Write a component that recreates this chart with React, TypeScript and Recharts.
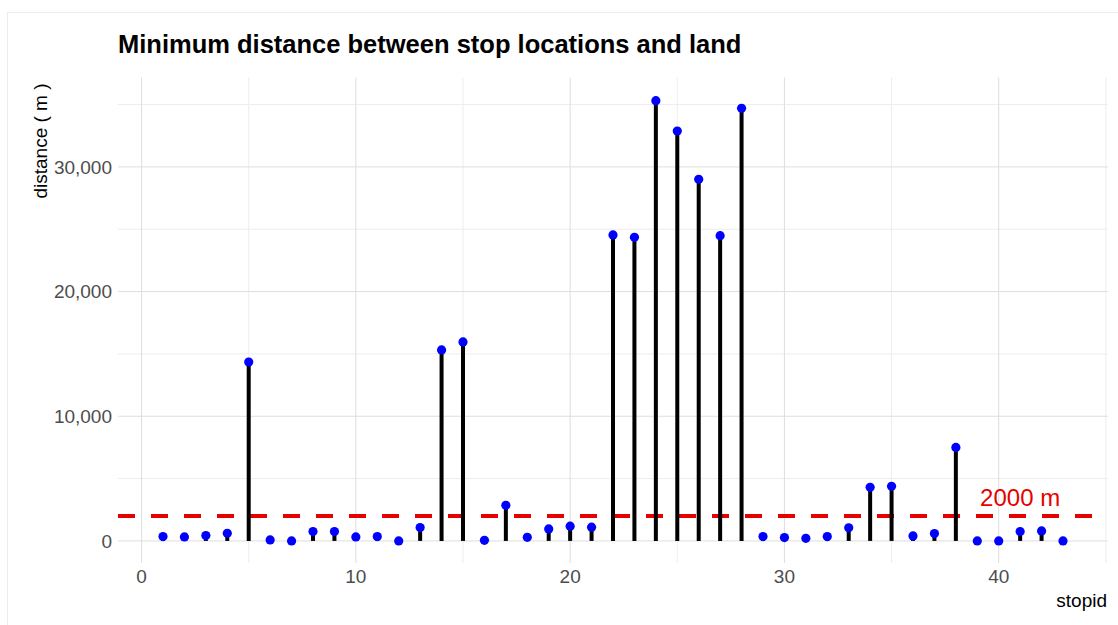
import React from "react";
import {
  ComposedChart,
  Scatter,
  XAxis,
  YAxis,
  CartesianGrid,
  ReferenceLine,
  ReferenceDot,
  ErrorBar,
} from "recharts";

const stopIds = [
  1, 2, 3, 4, 5, 6, 7, 8, 9, 10, 11, 12, 13, 14, 15, 16, 17, 18, 19, 20, 21,
  22, 23, 24, 25, 26, 27, 28, 29, 30, 31, 32, 33, 34, 35, 36, 37, 38, 39, 40,
  41, 42, 43,
];
const distances = [
  350, 320, 430, 615, 14350, 80, 0, 750, 750, 320, 350, 0, 1070, 15320, 15960,
  50, 2860, 290, 960, 1180, 1100, 24540, 24350, 35310, 32880, 29000, 24480,
  34700, 350, 270, 210, 350, 1050, 4300, 4380, 400, 590, 7500, 0, 0, 750, 800,
  0,
];
const xTicks = [0, 10, 20, 30, 40];
const xMinor = [5, 15, 25, 35, 45];
const yTicks = [0, 10000, 20000, 30000];
const yMinor = [5000, 15000, 25000, 35000];
const threshold = 2000;
const thresholdLabel = "2000 m";

const data = stopIds.map((id, i) => ({
  id,
  v: distances[i],
  err: [distances[i], 0],
}));

const FONT = "'Liberation Sans', Arial, sans-serif";

export default function App() {
  return (
    <div
      style={{
        position: "absolute",
        left: 0,
        top: 0,
        width: 1118,
        height: 625,
        background: "#fff",
        fontFamily: FONT,
        overflow: "hidden",
      }}
    >
      <ComposedChart
        width={1118}
        height={625}
        data={data}
        margin={{ top: 77.5, right: 10, bottom: 0, left: 0 }}
      >
        <CartesianGrid
          horizontalValues={yMinor}
          verticalValues={xMinor}
          stroke="#ededed"
          strokeWidth={1}
        />
        <CartesianGrid
          horizontalValues={yTicks}
          verticalValues={xTicks}
          stroke="#dedede"
          strokeWidth={1}
        />
        <XAxis
          type="number"
          dataKey="id"
          domain={[-1.1, 45.1]}
          ticks={xTicks}
          allowDataOverflow
          axisLine={false}
          tickLine={false}
          height={62}
          tickSize={6}
          tickMargin={1}
          tick={{ fill: "#4d4d4d", fontSize: 19 }}
        />
        <YAxis
          type="number"
          dataKey="v"
          domain={[-1770, 37170]}
          ticks={yTicks}
          allowDataOverflow
          axisLine={false}
          tickLine={false}
          width={118}
          tickSize={6}
          tickMargin={0}
          tick={{ fill: "#4d4d4d", fontSize: 19 }}
          tickFormatter={(v: number) => v.toLocaleString("en-US")}
        />
        <ReferenceLine
          y={threshold}
          stroke="#e60000"
          strokeWidth={4}
          strokeDasharray="17 16"
        />
        <Scatter
          data={data}
          dataKey="v"
          isAnimationActive={false}
          shape={() => <g />}
        >
          <ErrorBar
            dataKey="err"
            direction="y"
            width={0}
            stroke="#000"
            strokeWidth={4}
            isAnimationActive={false}
          />
        </Scatter>
        <Scatter
          data={data}
          dataKey="v"
          isAnimationActive={false}
          shape={(p: any) => (
            <circle cx={p.cx} cy={p.cy} r={4.6} fill="#0000ff" />
          )}
        />
        <ReferenceDot
          x={41}
          y={3450}
          r={1}
          fill="none"
          stroke="none"
          label={{
            value: thresholdLabel,
            position: "center",
            fill: "#e60000",
            fontSize: 24,
          }}
        />
      </ComposedChart>
      <svg
        width={1118}
        height={625}
        style={{ position: "absolute", left: 0, top: 0, pointerEvents: "none" }}
      >
        <rect
          x={7.5}
          y={12.5}
          width={1130}
          height={630}
          fill="none"
          stroke="#ececec"
        />
        <text
          x={118}
          y={53}
          fontSize={25.5}
          fontWeight="bold"
          fill="#000"
          fontFamily={FONT}
        >
          Minimum distance between stop locations and land
        </text>
        <text
          transform="translate(46.5,141) rotate(-90)"
          textAnchor="middle"
          fontSize={19}
          fill="#000"
          fontFamily={FONT}
        >
          distance ( m )
        </text>
        <text
          x={1107}
          y={607}
          textAnchor="end"
          fontSize={19}
          fill="#000"
          fontFamily={FONT}
        >
          stopid
        </text>
      </svg>
    </div>
  );
}
